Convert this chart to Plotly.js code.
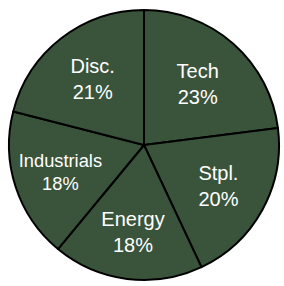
<!DOCTYPE html>
<html>
<head>
<meta charset="utf-8">
<script src="https://cdn.plot.ly/plotly-3.0.1.min.js"></script>
<style>html,body{margin:0;padding:0;background:#fff;}#chart{width:284px;height:286px;}</style>
</head>
<body>
<div id="chart"></div>
<script>
var sectors = ["Tech", "Stpl.", "Energy", "Industrials", "Disc."];
var shares = [23, 20, 18, 18, 21];
var sliceColors = ["#3a543b", "#3a543b", "#3a543b", "#3a543b", "#3a543b"];

Plotly.newPlot("chart", [{
  type: "pie",
  labels: sectors,
  values: shares,
  sort: false,
  direction: "clockwise",
  rotation: 0,
  textinfo: "label+percent",
  texttemplate: "%{label}<br>%{percent:.0%}",
  textposition: "inside",
  insidetextorientation: "horizontal",
  hoverinfo: "none",
  marker: {colors: sliceColors, line: {color: "#000000", width: 2}},
  textfont: {family: "Liberation Sans, Arial, sans-serif", size: 20, color: "#ffffff"},
  domain: {x: [0, 1], y: [0, 1]}
}], {
  width: 284, height: 286,
  margin: {l: 6, r: 2, t: 10, b: 6},
  showlegend: false,
  paper_bgcolor: "#ffffff",
  plot_bgcolor: "#ffffff"
}, {staticPlot: true, displayModeBar: false});
</script>
</body>
</html>
